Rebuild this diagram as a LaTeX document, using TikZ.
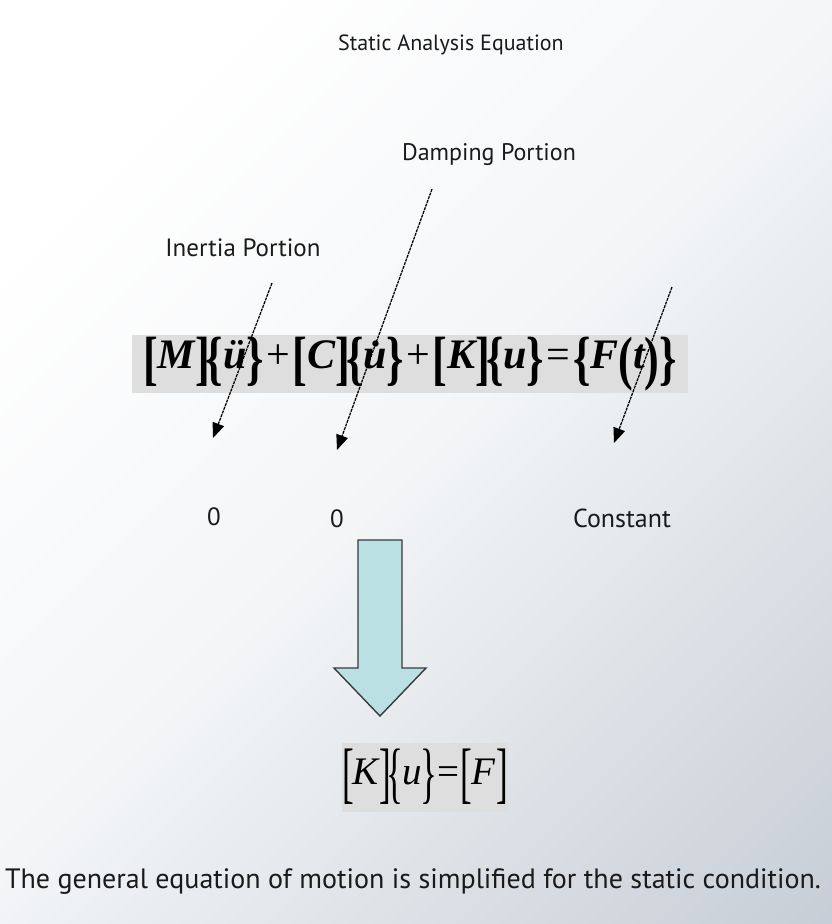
\documentclass[tikz,border=0pt]{standalone}
\usepackage{fontspec}
\usepackage{graphicx}
\setmainfont{PT Sans}
\newfontfamily\tms{Liberation Serif}
\usetikzlibrary{arrows.meta}
\definecolor{bgA}{HTML}{F3F5F7}
\definecolor{bgB}{HTML}{DDE1E6}
\definecolor{bgC}{HTML}{C6CDD6}
\definecolor{eqgray}{HTML}{DEDEDE}
\definecolor{arrowfill}{HTML}{BAE0E3}
\definecolor{arrowline}{HTML}{3A3A3A}
\definecolor{txt}{HTML}{1A1A1A}
\pgfdeclarehorizontalshading{bgsh}{100bp}{color(0bp)=(white); color(25bp)=(white); color(50bp)=(bgA); color(68bp)=(bgB); color(86bp)=(bgC); color(100bp)=(bgC)}
\newcommand\bi[1]{{\bfseries\itshape #1}}
\newcommand\bk[1]{\raisebox{-.24em}{\scalebox{1.05}[1.42]{\bfseries #1}}}
\newcommand\bkk[1]{\raisebox{-.30em}{\scalebox{0.9}[1.72]{#1}}}
\begin{document}
\begin{tikzpicture}[x=1pt,y=-1pt,
  lbl/.style={inner sep=0pt, text=txt},
  eqbox/.style={fill=eqgray, inner sep=0pt, anchor=center},
  conn/.style={draw=black, line width=1.25pt, dash pattern=on 3pt off 0.9pt,
    -{Triangle[length=15pt,width=12pt]}}]
\useasboundingbox (0,0) rectangle (832,924);
\shade[shading=bgsh, shading angle=-45] (0,0) rectangle (832,924);

\node[lbl, font=\fontsize{22}{26}\selectfont] (title) at (451,45) {Static Analysis Equation};
\node[lbl, font=\fontsize{24}{28}\selectfont] (damp) at (489,155) {Damping Portion};
\node[lbl, font=\fontsize{25}{28}\selectfont] (inert) at (243,248) {Inertia Portion};

\node[eqbox, minimum width=556pt, minimum height=58pt] (eq) at (410,364)
  {\tms\fontsize{42}{44}\selectfont
   \bk{[}\bi{M}\bk{]}\kern-4pt\bk{\{}\bi{ü}\bk{\}}\kern2.5pt+\kern2.5pt\bk{[}\bi{C}\bk{]}\kern-4pt\bk{\{}\bi{u\char"0307}\bk{\}}\kern2.5pt+\kern2.5pt\bk{[}\bi{K}\bk{]}\kern-4pt\bk{\{}\bi{u}\bk{\}}\kern2.5pt=\kern2.5pt\bk{\{}\bi{F}\bk{(}\bi{t}\bk{)}\bk{\}}};

\coordinate (i1) at (272,283);
\coordinate (i2) at (213,438);
\coordinate (d1) at (432,189);
\coordinate (d2) at (337,450);
\coordinate (c1) at (672,287);
\coordinate (c2) at (614,443);
\draw[conn] (i1) -- (i2);
\draw[conn] (d1) -- (d2);
\draw[conn] (c1) -- (c2);

\node[lbl, font=\fontsize{25}{28}\selectfont] (z1) at (214,517) {0};
\node[lbl, font=\fontsize{25}{28}\selectfont] (z2) at (337,519) {0};
\node[lbl, font=\fontsize{26}{28}\selectfont] (const) at (622,518) {Constant};

\draw[fill=arrowfill, draw=arrowline, line width=1.4pt, line join=miter]
  (358,540) -- (402,540) -- (402,668) -- (426,668) -- (380,716) -- (334,668) -- (358,668) -- cycle;

\node[eqbox, minimum width=150pt, minimum height=69pt] (eq2) at (425,777)
  {\tms\fontsize{39}{40}\selectfont
   \bkk{[}\kern-1pt\textit{K}\kern-1pt\bkk{]}\kern-5pt\bkk{\{}\kern-1pt\textit{u}\kern-1pt\bkk{\}}\kern0.5pt=\kern0.5pt\bkk{[}\kern-1pt\textit{F}\kern1pt\bkk{]}};

\node[lbl, font=\fontsize{28}{32}\selectfont] (cap) at (413,882)
  {The general equation of motion is simplified for the static condition.};
\end{tikzpicture}
\end{document}
